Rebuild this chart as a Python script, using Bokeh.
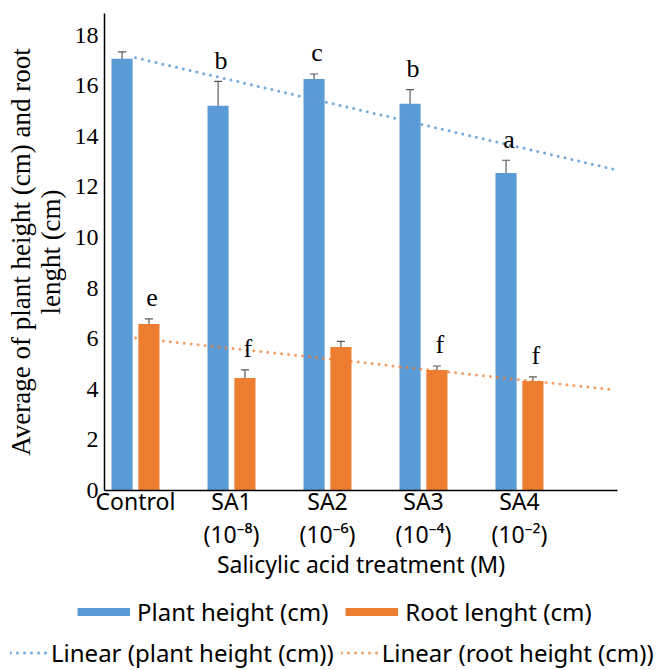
from bokeh.plotting import figure
from bokeh.layouts import column
from bokeh.models import (ColumnDataSource, Range1d, FixedTicker, Whisker, TeeHead,
                          Legend, LegendItem)
from bokeh.core.properties import value
from bokeh.embed import file_html
from bokeh.resources import INLINE

NAN = float("nan")

# ---------------- data ----------------
categories = ["Control", "SA1", "SA2", "SA3", "SA4"]
concentrations = ["", "(10⁻⁸)", "(10⁻⁶)", "(10⁻⁴)", "(10⁻²)"]
plant_height = [17.06, 15.2, 16.26, 15.28, 12.55]
plant_err = [0.27, 0.97, 0.2, 0.56, 0.5]
root_length = [6.58, 4.45, 5.67, 4.76, 4.33]
root_err = [0.2, 0.32, 0.22, 0.16, 0.16]
plant_letters = ["", "b", "c", "b", "a"]
root_letters = ["e", "f", "", "f", "f"]
trend_x = [0, 5]
trend_plant = [17.1, 12.68]
trend_root = [6.03, 3.97]
y_ticks = [0, 2, 4, 6, 8, 10, 12, 14, 16, 18]

BLUE = "#5B9BD5"
ORANGE = "#ED7D31"
ERR = "#5a5a5a"
SANS = "Noto Sans"
SERIF = "Liberation Serif"

idx = list(range(len(categories)))
off = 0.14
bw = 0.22
plant_src = ColumnDataSource(dict(
    x=[i - off for i in idx], top=plant_height,
    upper=[v + e for v, e in zip(plant_height, plant_err)],
    lower=[v - e for v, e in zip(plant_height, plant_err)],
    letter=plant_letters))
root_src = ColumnDataSource(dict(
    x=[i + off for i in idx], top=root_length,
    upper=[v + e for v, e in zip(root_length, root_err)],
    lower=[v - e for v, e in zip(root_length, root_err)],
    letter=root_letters))

p = figure(frame_width=513, frame_height=477,
           x_range=Range1d(-0.323, 5.021), y_range=Range1d(0, 18.85),
           output_backend="svg", toolbar_location=None,
           min_border_left=104, min_border_right=37, min_border_top=13,
           min_border_bottom=92, outline_line_color=None)
p.frame_align = False
p.xgrid.visible = False
p.ygrid.visible = False

p.vbar(x="x", top="top", width=bw, bottom=0, source=plant_src,
       fill_color=BLUE, line_color=None)
p.vbar(x="x", top="top", width=bw, bottom=0, source=root_src,
       fill_color=ORANGE, line_color=None)

for src in (plant_src, root_src):
    w = Whisker(source=src, base="x", upper="upper", lower="lower",
                line_color=ERR, line_width=1.2,
                upper_head=TeeHead(size=8, line_color=ERR, line_width=1.2),
                lower_head=TeeHead(size=8, line_color=ERR, line_width=1.2))
    p.add_layout(w)

DOT = dict(line_width=3, line_dash="0 7", line_cap="round")
p.line(trend_x, trend_plant, line_color=BLUE, line_alpha=0.85, **DOT)
p.line(trend_x, trend_root, line_color=ORANGE, line_alpha=0.75, **DOT)

for src in (plant_src, root_src):
    p.text(x="x", y="upper", text="letter", source=src,
           text_font=value(SERIF), text_font_size="26px", text_color="black",
           text_align="center", text_baseline="alphabetic",
           x_offset=3, y_offset=-21)

# axes
p.yaxis.ticker = FixedTicker(ticks=y_ticks)
p.yaxis.major_tick_line_color = None
p.yaxis.minor_tick_line_color = None
p.yaxis.major_tick_out = 0
p.yaxis.major_label_standoff = 6
p.yaxis.major_label_text_font = SERIF
p.yaxis.major_label_text_font_size = "24px"
p.yaxis.major_label_text_color = "black"
p.yaxis.axis_line_color = "black"
p.yaxis.axis_line_width = 1.5
p.yaxis.axis_label = "Average of plant height (cm) and root\nlenght (cm)"
p.yaxis.axis_label_text_font = SERIF
p.yaxis.axis_label_text_font_size = "27px"
p.yaxis.axis_label_text_font_style = "normal"
p.yaxis.axis_label_text_color = "black"
p.yaxis.axis_label_text_line_height = 1.0
p.yaxis.axis_label_standoff = 6

p.xaxis.ticker = FixedTicker(ticks=idx)
p.xaxis.major_label_overrides = {
    i: (c if not k else c + "\n" + k) for i, c, k in zip(idx, categories, concentrations)}
p.xaxis.major_tick_line_color = None
p.xaxis.minor_tick_line_color = None
p.xaxis.major_tick_out = 0
p.xaxis.major_label_standoff = -6
p.xaxis.major_label_text_font = SANS
p.xaxis.major_label_text_font_size = "23px"
p.xaxis.major_label_text_color = "black"
p.xaxis.major_label_text_line_height = 1.05
p.xaxis.axis_line_color = "black"
p.xaxis.axis_line_width = 1.5
p.xaxis.axis_label = "Salicylic acid treatment (M)"
p.xaxis.axis_label_text_font = SANS
p.xaxis.axis_label_text_font_size = "23px"
p.xaxis.axis_label_text_font_style = "normal"
p.xaxis.axis_label_text_color = "black"
p.xaxis.axis_label_standoff = -5

# ---------------- legend strip ----------------
lg = figure(width=654, height=86, x_range=Range1d(0, 1), y_range=Range1d(0, 1),
            output_backend="svg", toolbar_location=None, min_border=0,
            x_axis_location=None, y_axis_location=None, outline_line_color=None)
lg.frame_align = False
lg.xgrid.visible = False
lg.ygrid.visible = False
sw_blue = lg.line([NAN, NAN], [NAN, NAN], line_color=BLUE, line_width=8)
sw_orange = lg.line([NAN, NAN], [NAN, NAN], line_color=ORANGE, line_width=8)
sw_tp = lg.line([NAN, NAN], [NAN, NAN], line_color=BLUE, line_alpha=0.85, **DOT)
sw_tr = lg.line([NAN, NAN], [NAN, NAN], line_color=ORANGE, line_alpha=0.75, **DOT)

common = dict(orientation="horizontal", glyph_height=31, label_height=31,
              padding=0, margin=0, label_text_font=SANS, label_text_font_size="24px",
              label_text_color="black", border_line_color=None,
              background_fill_alpha=0)
leg1 = Legend(items=[LegendItem(label="Plant height (cm)", renderers=[sw_blue]),
                     LegendItem(label="Root lenght (cm)", renderers=[sw_orange])],
              location=(77, 41), glyph_width=53, label_standoff=7, spacing=17,
              **common)
leg2 = Legend(items=[LegendItem(label="Linear (plant height (cm))", renderers=[sw_tp]),
                     LegendItem(label="Linear (root height (cm))", renderers=[sw_tr])],
              location=(10, 0), glyph_width=38, label_standoff=3, spacing=7,
              **common)
lg.add_layout(leg1, "center")
lg.add_layout(leg2, "center")

layout = column(p, lg, spacing=0)
open("out.html", "w").write(file_html(layout, INLINE))
